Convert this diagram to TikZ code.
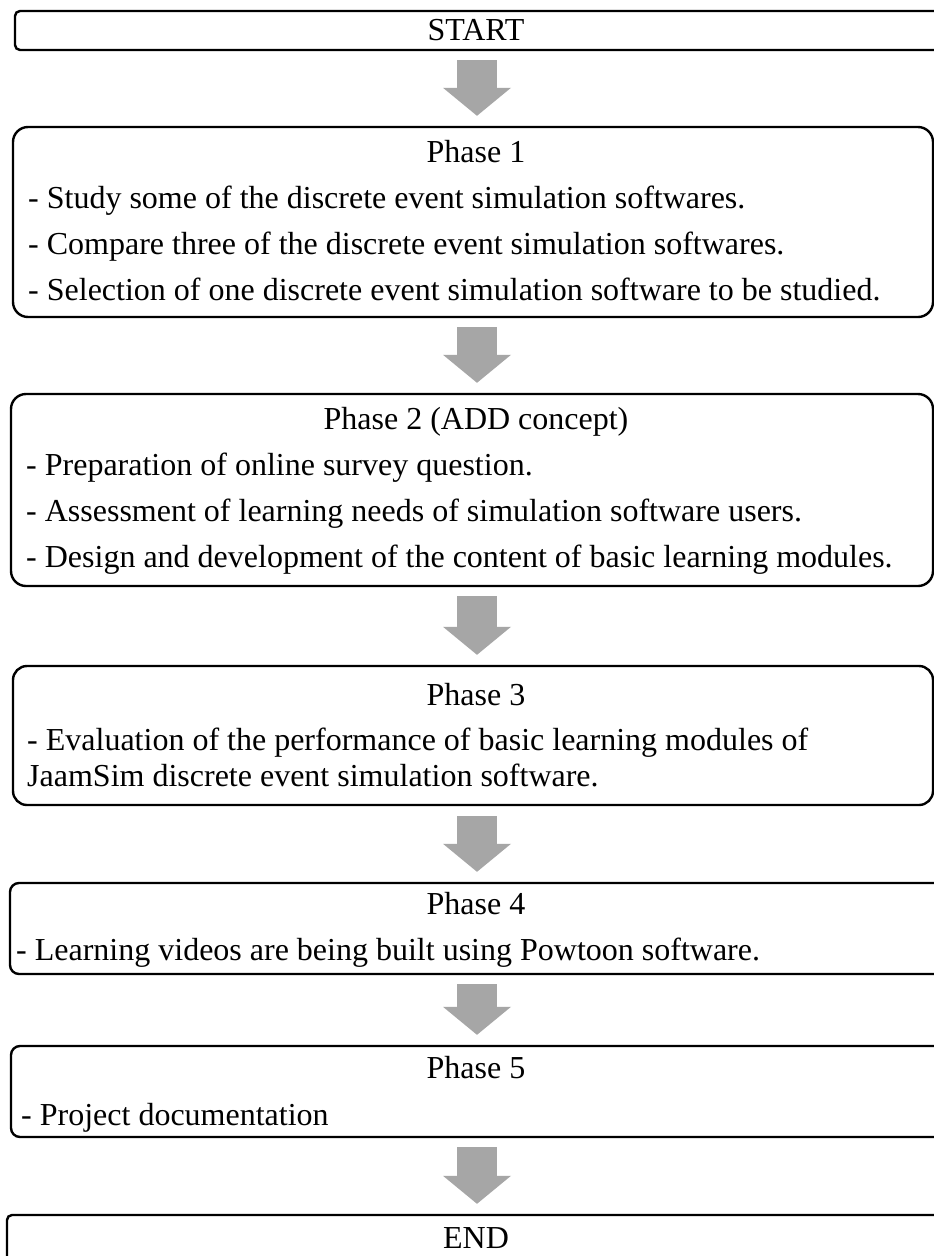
\documentclass[tikz,border=0pt]{standalone}
\usepackage{fontspec}
\setmainfont{Liberation Serif}
\usetikzlibrary{arrows.meta}
\definecolor{arrowgray}{RGB}{166,166,166}
\begin{document}
\begin{tikzpicture}[x=1pt,y=-1pt,
  box/.style={draw=black,line width=2.4pt,inner sep=0pt,fill=white},
  label/.style={inner sep=0pt,font=\fontsize{32}{37}\selectfont},
  title/.style={label,anchor=base},
  item/.style={label,anchor=base west},
  flow/.style={draw=arrowgray,line width=40pt,
    -{Triangle[width=68pt,length=28pt,line width=0pt]}}]
\useasboundingbox (0,0) rectangle (934,1256);
\clip (0,0) rectangle (934,1256);
\fill[white] (0,0) rectangle (934,1256);

% stage frames
\node[box,rounded corners=5pt,minimum width=930pt,minimum height=39pt] (start) at (480,30.5) {};
\node[box,rounded corners=15pt,minimum width=920pt,minimum height=190pt] (p1) at (473,222) {};
\node[box,rounded corners=15pt,minimum width=922pt,minimum height=192pt] (p2) at (472,490) {};
\node[box,rounded corners=14pt,minimum width=920pt,minimum height=139pt] (p3) at (473,735.5) {};
\node[box,rounded corners=9pt,minimum width=935pt,minimum height=91pt] (p4) at (477.5,928.5) {};
\node[box,rounded corners=9pt,minimum width=934pt,minimum height=91pt] (p5) at (478,1091.5) {};
\node[box,rounded corners=5pt,minimum width=938pt,minimum height=65pt] (end) at (476,1247.5) {};

% texts
\node[title] (tstart) at (476,40) {START};

\node[title] (t1) at (476,162) {Phase 1};
\node[item] (t1a) at (28,208) {- Study some of the discrete event simulation softwares.};
\node[item] (t1b) at (28,254) {- Compare three of the discrete event simulation softwares.};
\node[item] (t1c) at (28,300) {- Selection of one discrete event simulation software to be studied.};

\node[title] (t2) at (476,429) {Phase 2 (ADD concept)};
\node[item] (t2a) at (26,475) {- Preparation of online survey question.};
\node[item] (t2b) at (26,521) {- Assessment of learning needs of simulation software users.};
\node[item] (t2c) at (26,567) {- Design and development of the content of basic learning modules.};

\node[title] (t3) at (476,705) {Phase 3};
\node[item] (t3a) at (27,750) {- Evaluation of the performance of basic learning modules of};
\node[item] (t3b) at (27,786) {JaamSim discrete event simulation software.};

\node[title] (t4) at (476,914) {Phase 4};
\node[item] (t4a) at (16,960) {- Learning videos are being built using Powtoon software.};

\node[title] (t5) at (476,1078) {Phase 5};
\node[item] (t5a) at (21,1125) {- Project documentation};

\node[title] (tend) at (476,1248) {END};

% flow arrows between stages
\coordinate (ax) at (477,0);
\draw[flow] ([yshift=-9pt]start.south -| ax) -- ([yshift=10pt]p1.north -| ax);
\draw[flow] ([yshift=-9pt]p1.south -| ax) -- ([yshift=10pt]p2.north -| ax);
\draw[flow] ([yshift=-9pt]p2.south -| ax) -- ([yshift=10pt]p3.north -| ax);
\draw[flow] ([yshift=-10pt]p3.south -| ax) -- ([yshift=10pt]p4.north -| ax);
\draw[flow] ([yshift=-9pt]p4.south -| ax) -- ([yshift=10pt]p5.north -| ax);
\draw[flow] ([yshift=-9pt]p5.south -| ax) -- ([yshift=10pt]end.north -| ax);
\end{tikzpicture}
\end{document}
